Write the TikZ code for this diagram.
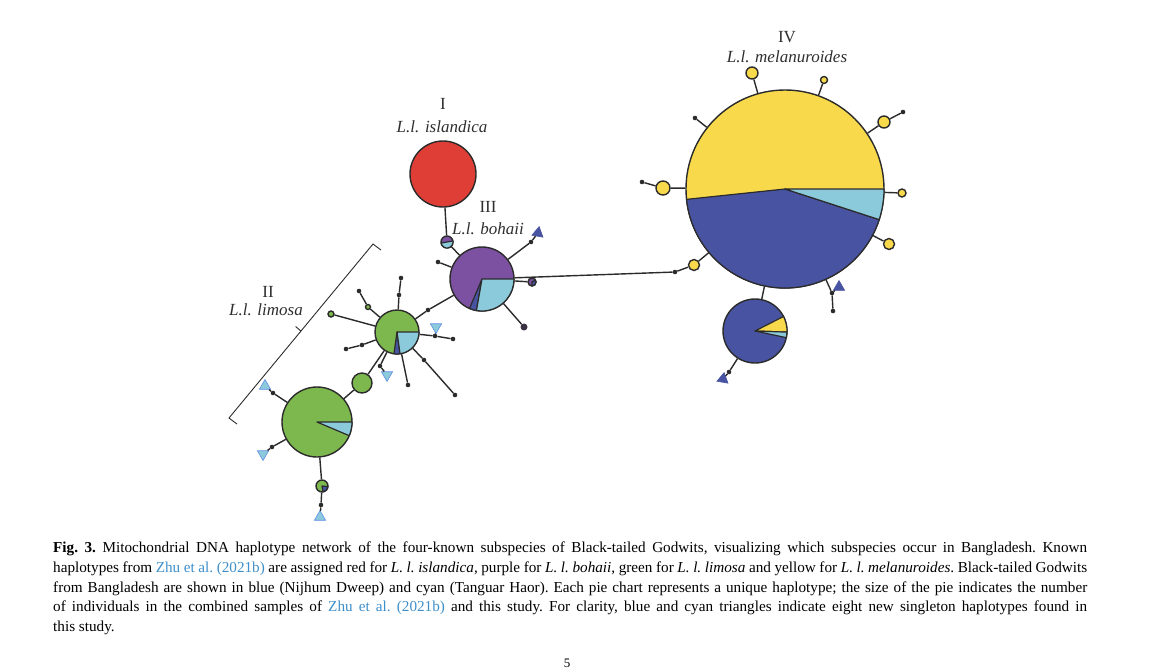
\documentclass[tikz,border=0pt]{standalone}
\usepackage{fontspec}
\setmainfont{Liberation Serif}
\usetikzlibrary{shapes.geometric}
\definecolor{ol}{HTML}{2B2B2B}
\definecolor{cred}{HTML}{DE3E35}
\definecolor{cpur}{HTML}{7D51A1}
\definecolor{cgrn}{HTML}{7CB84E}
\definecolor{ccyn}{HTML}{8BCADB}
\definecolor{cblu}{HTML}{4854A1}
\definecolor{cyel}{HTML}{F8D94B}
\definecolor{clink}{HTML}{3F8FC9}
\definecolor{txt}{HTML}{2E2E2E}
\tikzset{
  hap/.style={circle, draw=ol, line width=1.4pt, inner sep=0pt, minimum size=#1},
  dotn/.style={circle, fill=ol, inner sep=0pt, minimum size=4.6pt},
  edge/.style={draw=ol, line width=1.4pt},
  sect/.style={draw=ol, line width=1.2pt, line join=round},
  tricyan/.style={regular polygon, regular polygon sides=3, fill=ccyn, draw=ccyn!70!blue, line width=0.6pt, inner sep=0pt, minimum size=13pt},
  triblue/.style={regular polygon, regular polygon sides=3, fill=cblu, draw=cblu, line width=0.6pt, inner sep=0pt, minimum size=13pt},
  lbl/.style={font=\fontsize{17pt}{20pt}\selectfont, text=txt, inner sep=0pt},
}
\newcommand{\sector}[5]{% center, radius, start, end, colour
  \filldraw[sect, fill=#5] (#1) -- ++(#3:#2) arc[start angle=#3, end angle=#4, radius=#2] -- cycle;}
\begin{document}
\begin{tikzpicture}[x=1pt,y=-1pt]
\path[use as bounding box] (0,0) rectangle (1154,670);

% ---------- labels ----------
\node[lbl] (lI) at (443,104) {I};
\node[lbl] (lIs) at (442,127) {\itshape L.l. islandica};
\node[lbl] (lIII) at (488,207) {III};
\node[lbl] (lIIIs) at (488,229) {\itshape L.l. bohaii};
\node[lbl] (lII) at (268,292) {II};
\node[lbl] (lIIs) at (266,310) {\itshape L.l. limosa};
\node[lbl] (lIV) at (787,37) {IV};
\node[lbl] (lIVs) at (787,57) {\itshape L.l. melanuroides};

% ---------- bracket ----------
\draw[ol, line width=0.9pt] (381,250) -- (373,244) -- (229,418) -- (237,424);
\draw[ol, line width=0.9pt] (301,331) -- (295.6,326.5);

% ---------- haplotype nodes ----------
\node[hap=66pt, fill=cred] (I) at (443,174) {};
\node[hap=12pt, fill=cpur] (sI) at (447,242) {};
\node[hap=64pt, fill=cpur] (III) at (482,279) {};
\node[hap=8pt, fill=cpur] (IIIr) at (532,282) {};
\node[circle, fill=ol!80!cpur, inner sep=0pt, minimum size=7pt] (IIIdr) at (524,327) {};
\node[dotn] (IIIl) at (438,262) {};
\node[dotn] (IIIu) at (531,242) {};
\node[triblue, shape border rotate=-10] (t1) at (538,233) {};

\node[dotn] (dL) at (675,272) {};
\node[hap=11pt, fill=cyel] (yL) at (694,265) {};
\node[dotn] (dH) at (428,310) {};

\node[hap=44pt, fill=cgrn] (H) at (397,332) {};
\node[dotn] (hu1) at (399,295) {};
\node[dotn] (hu2) at (401,278) {};
\node[hap=5pt, fill=cgrn] (hul1) at (368,307) {};
\node[dotn] (hul2) at (359,291) {};
\node[hap=6pt, fill=cgrn] (hl) at (331,314) {};
\node[dotn] (hll1) at (362,345) {};
\node[dotn] (hll2) at (346,349) {};
\node[hap=20pt, fill=cgrn] (G2) at (362,383) {};
\node[dotn] (hdl) at (380,366) {};
\node[tricyan, shape border rotate=180] (t2) at (387,375) {};
\node[dotn] (hd) at (408,385) {};
\node[dotn] (hdr1) at (424,360) {};
\node[dotn] (hdr2) at (455,395) {};
\node[dotn] (hr1) at (435,336) {};
\node[dotn] (hr2) at (453,339) {};
\node[tricyan, shape border rotate=180] (t3) at (436,327) {};

\node[hap=70pt, fill=cgrn] (L) at (317,422) {};
\node[dotn] (lul) at (273,393) {};
\node[tricyan] (t4) at (265,386) {};
\node[dotn] (lll) at (272,447) {};
\node[tricyan, shape border rotate=180] (t5) at (263,454) {};
\node[hap=12pt, fill=cgrn] (sL) at (322,486) {};
\node[dotn] (ld) at (321,505) {};
\node[tricyan] (t6) at (320,517) {};

\node[hap=198pt, fill=cyel] (IV) at (785,189) {};
\node[hap=12pt, fill=cyel] (y1) at (752,73) {};
\node[hap=7pt, fill=cyel] (y2) at (824,80) {};
\node[dotn] (d3) at (695,118) {};
\node[hap=12pt, fill=cyel] (y4) at (884,122) {};
\node[dotn] (d4) at (903,112) {};
\node[hap=14pt, fill=cyel] (y5) at (663,188) {};
\node[dotn] (d5) at (642,182) {};
\node[hap=8pt, fill=cyel] (y6) at (902,193) {};
\node[hap=11pt, fill=cyel] (y7) at (889,244) {};
\node[dotn] (d8) at (832,293) {};
\node[dotn] (d8b) at (833,311) {};
\node[triblue] (t7) at (839,287) {};
\node[hap=64pt, fill=cblu] (IVs) at (755,331) {};
\node[dotn] (d9) at (729,372) {};
\node[triblue, shape border rotate=110] (t8) at (723,379) {};

% ---------- pie sectors ----------
\sector{sI.center}{6pt}{-170}{10}{ccyn}
\sector{III.center}{32pt}{-113}{-100}{cblu}
\sector{III.center}{32pt}{-100}{0}{ccyn}
\sector{IIIr.center}{4pt}{-90}{30}{cblu}
\sector{H.center}{22pt}{-98}{-82}{cblu}
\sector{H.center}{22pt}{-82}{0}{ccyn}
\sector{L.center}{35pt}{-23}{0}{ccyn}
\sector{sL.center}{6pt}{-80}{-5}{cblu}
\sector{IV.center}{99pt}{186}{342}{cblu}
\sector{IV.center}{99pt}{-18}{0}{ccyn}
\sector{IVs.center}{32pt}{-2}{27}{cyel}
\sector{IVs.center}{32pt}{-12}{-2}{ccyn}

% ---------- connectors ----------
\draw[edge] (I) -- (sI);
\draw[edge] (sI) -- (III);
\draw[edge] (III) -- (IIIr);
\draw[edge] (III) -- (IIIdr);
\draw[edge] (III) -- (IIIl);
\draw[edge] (III) -- (IIIu);
\draw[edge] (IIIu) -- (t1);
\draw[edge] (III) -- (dL);
\draw[edge] (dL) -- (yL);
\draw[edge] (yL) -- (IV);
\draw[edge] (III) -- (dH);
\draw[edge] (dH) -- (H);

\draw[edge] (H) -- (hu1);
\draw[edge] (hu1) -- (hu2);
\draw[edge] (H) -- (hul1);
\draw[edge] (hul1) -- (hul2);
\draw[edge] (H) -- (hl);
\draw[edge] (H) -- (hll1);
\draw[edge] (hll1) -- (hll2);
\draw[edge] (H) -- (G2);
\draw[edge] (H) -- (hdl);
\draw[edge] (hdl) -- (t2);
\draw[edge] (H) -- (hd);
\draw[edge] (H) -- (hdr1);
\draw[edge] (hdr1) -- (hdr2);
\draw[edge] (H) -- (hr1);
\draw[edge] (hr1) -- (hr2);
\draw[edge] (hr1) -- (t3);

\draw[edge] (G2) -- (L);
\draw[edge] (L) -- (lul);
\draw[edge] (lul) -- (t4);
\draw[edge] (L) -- (lll);
\draw[edge] (lll) -- (t5);
\draw[edge] (L) -- (sL);
\draw[edge] (sL) -- (ld);
\draw[edge] (ld) -- (t6);

\draw[edge] (IV) -- (y1);
\draw[edge] (IV) -- (y2);
\draw[edge] (IV) -- (d3);
\draw[edge] (IV) -- (y4);
\draw[edge] (y4) -- (d4);
\draw[edge] (IV) -- (y5);
\draw[edge] (y5) -- (d5);
\draw[edge] (IV) -- (y6);
\draw[edge] (IV) -- (y7);
\draw[edge] (IV) -- (d8);
\draw[edge] (d8) -- (d8b);
\draw[edge] (d8) -- (t7);
\draw[edge] (IV) -- (IVs);
\draw[edge] (IVs) -- (d9);
\draw[edge] (d9) -- (t8);

% ---------- caption ----------
\node[anchor=north west, text width=1034pt, align=justify, inner sep=0pt, text=black,
      font=\fontsize{15.2pt}{19.8pt}\selectfont\frenchspacing] (cap) at (53,541.5) {%
\textbf{Fig.~3.} Mitochondrial DNA haplotype network of the four-known subspecies of Black-tailed Godwits, visualizing which subspecies occur in Bangladesh. Known\linebreak
haplotypes from \textcolor{clink}{Zhu et~al. (2021b)} are assigned red for \textit{L. l. islandica}, purple for \textit{L. l. bohaii}, green for \textit{L. l. limosa} and yellow for \textit{L. l. melanuroides}. Black-tailed Godwits\linebreak
from Bangladesh are shown in blue (Nijhum Dweep) and cyan (Tanguar Haor). Each pie chart represents a unique haplotype; the size of the pie indicates the number\linebreak
of individuals in the combined samples of \textcolor{clink}{Zhu et~al. (2021b)} and this study. For clarity, blue and cyan triangles indicate eight new singleton haplotypes found in\linebreak
this study.};
\node[font=\fontsize{13pt}{15pt}\selectfont, inner sep=0pt] (pg) at (567,663) {5};
\end{tikzpicture}
\end{document}
